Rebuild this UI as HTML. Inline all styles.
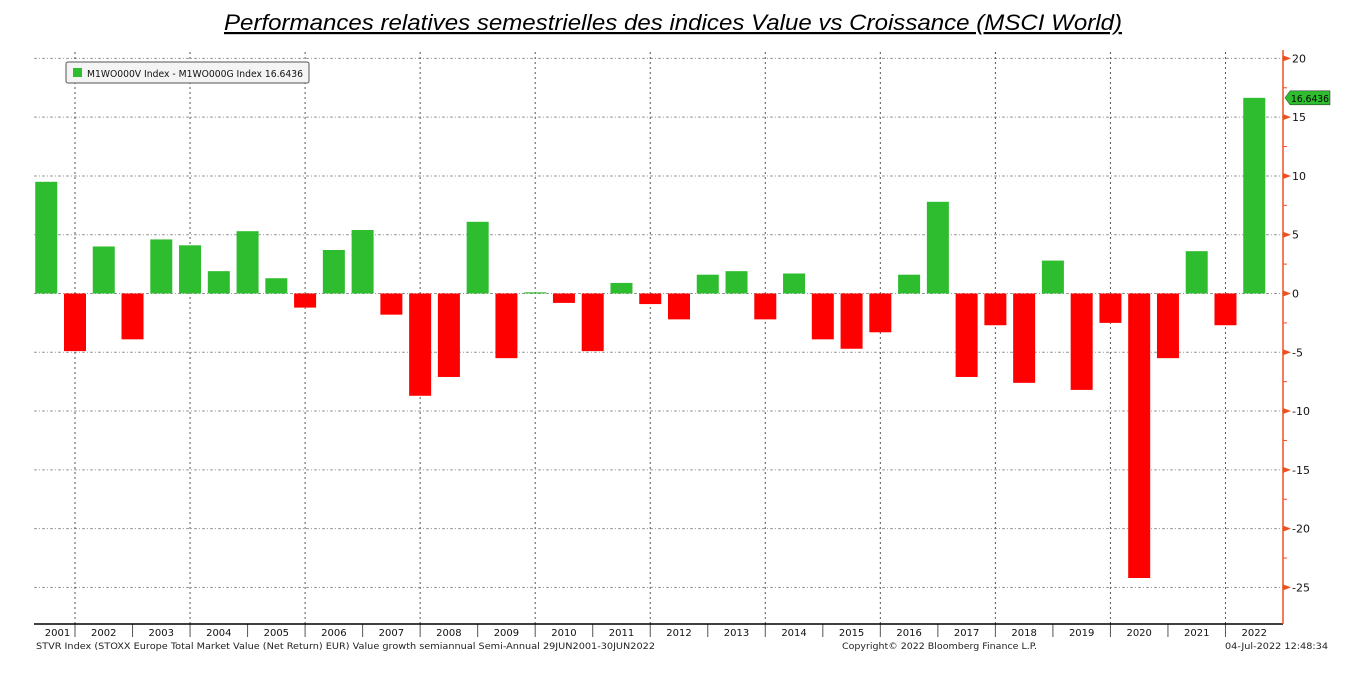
<!DOCTYPE html>
<html><head><meta charset="utf-8">
<style>
body{margin:0;background:#fff;width:1355px;height:676px;overflow:hidden;font-family:"Liberation Sans",sans-serif}
svg{display:block}
</style></head>
<body>
<svg id="chart" width="1355" height="676" xmlns="http://www.w3.org/2000/svg">
<text x="673" y="30" text-anchor="middle" font-size="22" textLength="898" lengthAdjust="spacingAndGlyphs" font-style="italic" text-decoration="underline" fill="#000">Performances relatives semestrielles des indices Value vs Croissance (MSCI World)</text>
<g id="grid"></g>
<g id="bars"></g>
<g id="axis"></g>
<g>
<rect x="66" y="62" width="243" height="21" rx="2" fill="#f4f4f4" stroke="#555" stroke-width="1"/>
<rect x="73" y="68" width="9" height="9" fill="#2ebd2e"/>
<text x="87" y="77" font-family="'DejaVu Sans',sans-serif" font-size="10" textLength="216" lengthAdjust="spacingAndGlyphs" fill="#111">M1WO000V Index - M1WO000G Index 16.6436</text>
</g>
<text x="36" y="649" font-family="'DejaVu Sans',sans-serif" font-size="9" textLength="619" lengthAdjust="spacingAndGlyphs" fill="#222">STVR Index (STOXX Europe Total Market Value (Net Return) EUR) Value growth semiannual  Semi-Annual 29JUN2001-30JUN2022</text>
<text x="842" y="649" font-family="'DejaVu Sans',sans-serif" font-size="9" textLength="195" lengthAdjust="spacingAndGlyphs" fill="#222">Copyright© 2022 Bloomberg Finance L.P.</text>
<text x="1225" y="649" font-family="'DejaVu Sans',sans-serif" font-size="9" textLength="103" lengthAdjust="spacingAndGlyphs" fill="#222">04-Jul-2022 12:48:34</text>
</svg>
<script>
const years=[2001,2002,2003,2004,2005,2006,2007,2008,2009,2010,2011,2012,2013,2014,2015,2016,2017,2018,2019,2020,2021,2022];
const values=[9.5,-4.9,4.0,-3.9,4.6,4.1,1.9,5.3,1.3,-1.2,3.7,5.4,-1.8,-8.7,-7.1,6.1,-5.5,0.1,-0.8,-4.9,0.9,-0.9,-2.2,1.6,1.9,-2.2,1.7,-3.9,-4.7,-3.3,1.6,7.8,-7.1,-2.7,-7.6,2.8,-8.2,-2.5,-24.2,-5.5,3.6,-2.7,16.6436];
const yTicks=[20,15,10,5,0,-5,-10,-15,-20,-25];
const lastLabel="16.6436";
const NS="http://www.w3.org/2000/svg";
const L=34,R=1283,B=624,yearW=(R-75)/21;
function y(v){return 293.5-v*11.756;}
function xc(i){return 75-yearW/2+i*yearW/2;}
function mk(tag,attrs,parent){const e=document.createElementNS(NS,tag);for(const k in attrs)e.setAttribute(k,attrs[k]);document.getElementById(parent).appendChild(e);return e;}
yTicks.forEach(t=>{
 const g=mk('line',{x1:L,x2:R,y1:y(t),y2:y(t),stroke:'#999','stroke-dasharray':'3,2,1,2','stroke-width':1},'grid');
 
 
 const tk=mk('path',{d:`M${R} ${y(t)-3}L${R+8} ${y(t)}L${R} ${y(t)+3}Z`,fill:'#f05020'},'axis');
 
 
 const tx=mk('text',{x:R+9,y:y(t)+4,'font-size':11,'font-family':"'DejaVu Sans',sans-serif",fill:'#111'},'axis');
 tx.textContent=t<0?'-'+Math.abs(t):String(t);
 
 
});
yTicks.slice(0,-1).forEach(t=>{
 const m=mk('line',{x1:R,x2:R+4,y1:y(t-2.5),y2:y(t-2.5),stroke:'#f05020'},'axis');
 
 
});
years.forEach((yr,k)=>{
 const bx=75+(k-1)*yearW;
 if(k%2==1){const v=mk('line',{x1:bx,x2:bx,y1:52,y2:B,stroke:'#555','stroke-dasharray':'2,3'},'grid');
  
  }
 if(k>0){const s=mk('line',{x1:bx,x2:bx,y1:B,y2:B+13,stroke:'#555'},'axis');
  
  }
 const cx=k==0?(L+75)/2+3:bx+yearW/2;
 const t=mk('text',{x:cx,y:B+12,'text-anchor':'middle','font-size':10,'font-family':"'DejaVu Sans',sans-serif",fill:'#111'},'axis');
 t.textContent=yr;
 
 
});
values.forEach((v,i)=>{
 const b=mk('rect',{x:xc(i)-11,width:22,y:Math.min(y(v),y(0)),height:Math.abs(y(v)-y(0)),fill:v>=0?'#2ebd2e':'#ff0000'},'bars');
 
 
});
const ax=mk('line',{x1:L,x2:R,y1:B,y2:B,stroke:'#000','stroke-width':1.5},'axis');


const ra=mk('line',{x1:R,x2:R,y1:50,y2:B,stroke:'#f05020','stroke-width':1.5},'axis');


const lv=values[values.length-1],ly=y(lv);
const tag=mk('path',{d:`M${R+2} ${ly}L${R+7} ${ly-7}H${R+47}V${ly+7}H${R+7}Z`,fill:'#2ebd2e',stroke:'#222','stroke-width':0.5},'axis');


const tl=mk('text',{x:R+8,y:ly+4,'font-size':10,'textLength':38,'lengthAdjust':'spacingAndGlyphs','font-family':"'DejaVu Sans',sans-serif",fill:'#000'},'axis');
tl.textContent=lastLabel;


</script>
</body></html>
